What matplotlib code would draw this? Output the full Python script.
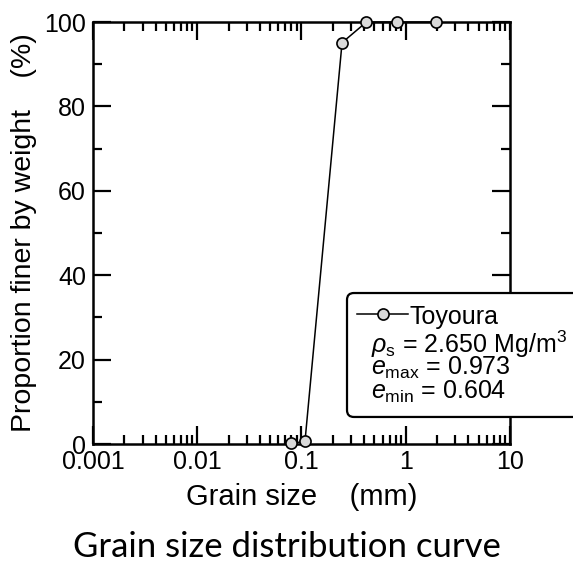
import matplotlib
matplotlib.use("Agg")
import matplotlib.pyplot as plt
from matplotlib.patches import FancyBboxPatch
from matplotlib.lines import Line2D
from matplotlib.ticker import LogLocator, MultipleLocator, FixedLocator, FixedFormatter

plt.rcParams['font.family'] = ['Liberation Sans', 'DejaVu Sans']
plt.rcParams['mathtext.fontset'] = 'custom'
plt.rcParams['mathtext.rm'] = 'Liberation Sans'
plt.rcParams['mathtext.it'] = 'Liberation Sans:italic'

# grain size (mm) and percent finer
grain_size = [0.08, 0.108, 0.245, 0.42, 0.83, 1.95]
finer = [0.2, 0.6, 95.1, 100, 100, 100]

x_ticks = [0.001, 0.01, 0.1, 1, 10]
x_labels = ['0.001', '0.01', '0.1', '1', '10']
legend_lines = ['$\\it{\\rho}_{\\rm s}$ = 2.650 Mg/m$^3$',
                '$\\it{e}_{\\rm max}$ = 0.973',
                '$\\it{e}_{\\rm min}$ = 0.604']

fig = plt.figure(figsize=(5.73, 5.66), dpi=100)
ax = fig.add_axes([0.1623, 0.2155, 0.7277, 0.7456])

ax.plot(grain_size, finer, color='black', lw=1.1, marker='o', ms=8,
        mfc='#d9d9d9', mec='black', mew=1.2, clip_on=False, zorder=5)

ax.set_xscale('log')
ax.set_xlim(0.001, 10)
ax.set_ylim(0, 100)
ax.xaxis.set_major_locator(FixedLocator(x_ticks))
ax.xaxis.set_major_formatter(FixedFormatter(x_labels))
ax.xaxis.set_minor_locator(LogLocator(base=10, subs=range(2, 10), numticks=20))
ax.xaxis.set_minor_formatter(plt.NullFormatter())
ax.yaxis.set_major_locator(MultipleLocator(20))
ax.yaxis.set_minor_locator(MultipleLocator(10))

for s in ax.spines.values():
    s.set_linewidth(1.8)
ax.tick_params(which='both', direction='in', top=True, right=True, width=1.6,
               labelsize=18)
ax.tick_params(axis='x', pad=4)
ax.tick_params(axis='y', pad=5)
ax.tick_params(which='major', length=13)
ax.tick_params(which='minor', length=6.5)

ax.set_xlabel('Grain size    (mm)', fontsize=21, labelpad=7)
ax.set_ylabel('Proportion finer by weight    (%)', fontsize=20.5, labelpad=5)

# legend box, runs off the right edge like the original
box = FancyBboxPatch((0.6056, 0.2633), 0.42, 0.219, transform=fig.transFigure,
                     boxstyle='round,pad=0,rounding_size=0.012',
                     fc='white', ec='black', lw=1.6, zorder=10)
fig.patches.append(box)
fig.add_artist(Line2D([0.623, 0.668, 0.712], [0.445, 0.445, 0.445],
                      transform=fig.transFigure, color='black', lw=1.1,
                      marker='o', ms=8, markevery=[1], mfc='#d9d9d9',
                      mec='black', mew=1.2, zorder=11))
fig.text(0.714, 0.440, 'Toyoura', fontsize=18, va='center', zorder=12)
for i, t in enumerate(legend_lines):
    fig.text(0.648, 0.392 - i * 0.0425, t, fontsize=18, va='center', zorder=12)

fig.text(0.5, 0.006, 'Grain size distribution curve', ha='center', va='bottom',
         fontsize=25, family=['Lato', 'DejaVu Sans'])

fig.savefig('out.png', dpi=100)
